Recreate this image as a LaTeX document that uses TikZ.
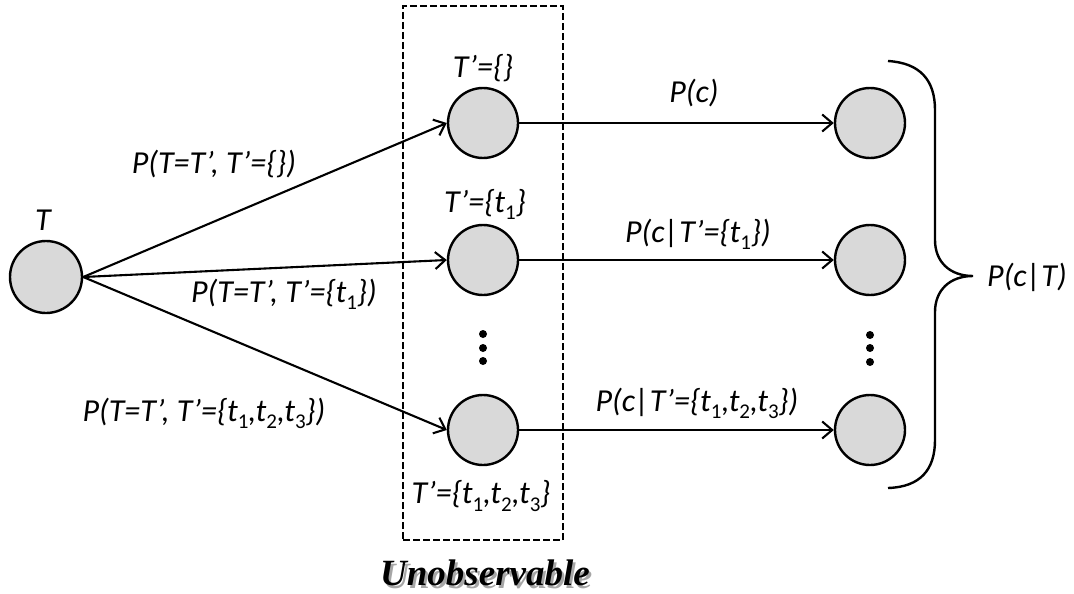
\documentclass[tikz,border=0pt]{standalone}
\usepackage{fontspec}
\setmainfont{Carlito}
\newfontfamily\unobsfont{Liberation Serif}
\usetikzlibrary{arrows.meta}
\newcommand{\tsub}[1]{\raisebox{-0.22em}{\fontsize{21}{21}\selectfont\upshape #1}}
\newcommand{\shadowtext}[1]{\makebox[0pt][l]{\hspace{2.5pt}\raisebox{-3pt}{\color{black!35}#1}}#1}
\begin{document}
\begin{tikzpicture}[x=1pt,y=-1pt,
  state/.style={circle, draw, line width=2.4pt, fill=black!15, minimum size=70pt, inner sep=0pt},
  lbl/.style={font=\fontsize{32}{36}\selectfont\itshape, inner sep=0pt},
  arr/.style={line width=2.1pt, -{Straight Barb[length=10pt,width=17pt,line width=2.1pt]}},
  dotstyle/.style={circle, fill=black, minimum size=8pt, inner sep=0pt},
]
\useasboundingbox (0,0) rectangle (1074,594);

% dashed box
\node[draw, dashed, dash pattern=on 7pt off 3pt, line width=2pt, minimum width=160pt, minimum height=534pt, inner sep=0pt] (box) at (483,273) {};

% nodes
\node[state, minimum size=72pt] (T) at (46,277) {};
\node[state] (m1) at (483,123) {};
\node[state] (m2) at (483,260) {};
\node[state] (m3) at (483,430) {};
\node[state] (r1) at (870,123) {};
\node[state] (r2) at (870,260) {};
\node[state] (r3) at (870,430) {};

% dots
\node[dotstyle] (md1) at (483,334) {};
\node[dotstyle] (md2) at (483,348) {};
\node[dotstyle] (md3) at (483,361) {};
\node[dotstyle] (rd1) at (870,335) {};
\node[dotstyle] (rd2) at (870,348) {};
\node[dotstyle] (rd3) at (870,362) {};

% arrows
\draw[arr] (T.east) -- (m1.west);
\draw[arr] (T.east) -- (m2.west);
\draw[arr] (T.east) -- (m3.west);
\draw[arr] (m1.east) -- (r1.west);
\draw[arr] (m2.east) -- (r2.west);
\draw[arr] (m3.east) -- (r3.west);

% labels
\node[lbl] (lT) at (43,220) {T};
\node[lbl] (l1) at (214,164) {P(T=T’, T’=\{\})};
\node[lbl] (l2) at (284,294) {P(T=T’, T’=\{t\tsub{1}\})};
\node[lbl] (l3) at (204,413) {P(T=T’, T’=\{t\tsub{1},t\tsub{2},t\tsub{3}\})};
\node[lbl] (lm1) at (483,68) {T’=\{\}};
\node[lbl] (lm2) at (485,204) {T’=\{t\tsub{1}\}};
\node[lbl] (lm3) at (481,496) {T’=\{t\tsub{1},t\tsub{2},t\tsub{3}\}};
\node[lbl] (lr1) at (694,93) {P(c)};
\node[lbl] (lr2) at (698,234) {P(c|T’=\{t\tsub{1}\})};
\node[lbl] (lr3) at (697,403) {P(c|T’=\{t\tsub{1},t\tsub{2},t\tsub{3}\})};

% brace
\draw[line width=2.4pt] (888,61) .. controls (920,63) and (935,80) .. (935,110) -- (935,240)
  .. controls (935,262) and (950,276) .. (973,276)
  .. controls (950,276) and (935,290) .. (935,312) -- (935,440)
  .. controls (935,470) and (920,487) .. (888,488);
\node[lbl] (PcT) at (1027,277) {P(c|T)};

% unobservable
\node[font=\unobsfont\bfseries\itshape\fontsize{37}{40}\selectfont, inner sep=0pt, anchor=base] (unobs) at (485,585) {\shadowtext{Unobservable}};
\end{tikzpicture}
\end{document}
